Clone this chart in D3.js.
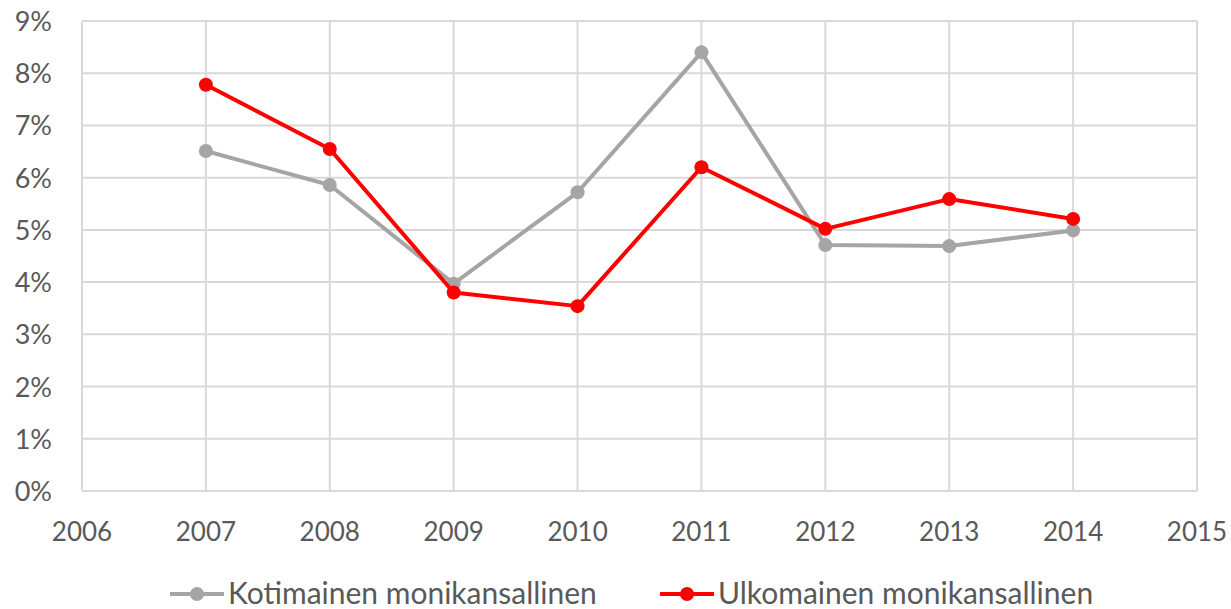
<!DOCTYPE html>
<html lang="fi">
<head>
<meta charset="utf-8"/>
<script src="https://d3js.org/d3.v7.min.js"></script>
<style>
  body { margin: 0; background: #fff; }
  text { font-family: Lato, "Open Sans", sans-serif; fill: #595959; }
  .grid line { stroke: #d9d9d9; stroke-width: 2px; }
</style>
</head>
<body>
<svg id="chart" width="1231" height="609"></svg>
<script>
const years = [2007, 2008, 2009, 2010, 2011, 2012, 2013, 2014];
const kotimainen = [6.51, 5.86, 3.97, 5.72, 8.40, 4.71, 4.69, 4.99];
const ulkomainen = [7.78, 6.55, 3.80, 3.54, 6.20, 5.02, 5.59, 5.21];
const seriesNames = ["Kotimainen monikansallinen", "Ulkomainen monikansallinen"];
const seriesColors = ["#a5a5a5", "#ff0000"];
const xTicks = d3.range(2006, 2016);
const yTicks = d3.range(0, 10);

const svg = d3.select("#chart");
const plotLeft = 82, plotRight = 1197, plotTop = 21, plotBottom = 491;

const x = d3.scaleLinear().domain([2006, 2015]).range([plotLeft, plotRight]);
const y = d3.scaleLinear().domain([0, 9]).range([plotBottom, plotTop]);

// grid
const grid = svg.append("g").attr("class", "grid");
grid.selectAll(".h").data(yTicks).enter().append("line")
  .attr("x1", plotLeft).attr("x2", plotRight)
  .attr("y1", d => y(d)).attr("y2", d => y(d));
grid.selectAll(".v").data(xTicks).enter().append("line")
  .attr("y1", plotTop).attr("y2", plotBottom)
  .attr("x1", d => x(d)).attr("x2", d => x(d));

// y labels
svg.selectAll(".ylab").data(yTicks).enter().append("text")
  .attr("x", 52).attr("y", d => y(d) + 10)
  .attr("text-anchor", "end")
  .style("font-size", "27px")
  .text(d => d + "%");

// x labels
svg.selectAll(".xlab").data(xTicks).enter().append("text")
  .attr("x", d => x(d)).attr("y", 541)
  .attr("text-anchor", "middle")
  .style("font-size", "26px")
  .text(d => d);

const line = d3.line().x((d, i) => x(years[i])).y(d => y(d));

[kotimainen, ulkomainen].forEach((vals, k) => {
  svg.append("path")
    .datum(vals)
    .attr("fill", "none")
    .attr("stroke", seriesColors[k])
    .attr("stroke-width", 4)
    .attr("stroke-linejoin", "round")
    .attr("d", line);
  svg.selectAll(".pt" + k).data(vals).enter().append("circle")
    .attr("cx", (d, i) => x(years[i]))
    .attr("cy", d => y(d))
    .attr("r", 7)
    .attr("fill", seriesColors[k]);
});

// legend
const legX = [170, 660];
seriesNames.forEach((name, k) => {
  const g = svg.append("g").attr("transform", "translate(" + legX[k] + ",594)");
  g.append("line").attr("x1", 0).attr("x2", 54).attr("y1", 0).attr("y2", 0)
    .attr("stroke", seriesColors[k]).attr("stroke-width", 4);
  g.append("circle").attr("cx", 27).attr("cy", 0).attr("r", 7).attr("fill", seriesColors[k]);
  g.append("text").attr("x", 58).attr("y", 10)
    .style("font-size", "30px")
    .text(name);
});
</script>
</body>
</html>
